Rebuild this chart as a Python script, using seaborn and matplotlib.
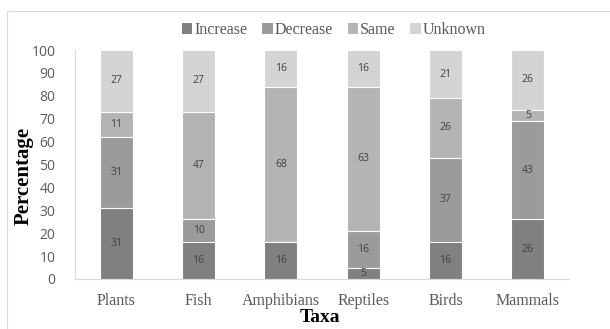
import numpy as np
import pandas as pd
import matplotlib
matplotlib.use("Agg")
import matplotlib.pyplot as plt
import seaborn as sns
from matplotlib.patches import Patch

taxa = ["Plants", "Fish", "Amphibians", "Reptiles", "Birds", "Mammals"]
increase = [31, 16, 16, 5, 16, 26]
decrease = [31, 10, 0, 16, 37, 43]
same = [11, 47, 68, 63, 26, 5]
unknown = [27, 27, 16, 16, 21, 26]

series_names = ["Increase", "Decrease", "Same", "Unknown"]
series_values = [increase, decrease, same, unknown]
colors = ["#808080", "#9b9b9b", "#b4b4b4", "#d4d4d4"]
yticks = [0, 10, 20, 30, 40, 50, 60, 70, 80, 90, 100]

sns.set_theme(style="white")
plt.rcParams["font.serif"] = ["Liberation Serif", "DejaVu Serif"]
plt.rcParams["font.sans-serif"] = ["Open Sans", "Liberation Sans", "DejaVu Sans"]

fig = plt.figure(figsize=(6.10, 3.29), dpi=100)
ax = fig.add_axes([75 / 610, 50 / 329, 494 / 610, 229 / 329])

# cumulative tops for stacking
cum = np.cumsum(np.array(series_values), axis=0)
df = pd.DataFrame({"taxa": taxa})
for i, name in enumerate(series_names):
    df[name] = cum[i]

# draw from the top layer down so each lower layer overlays the previous
for i in reversed(range(len(series_names))):
    sns.barplot(data=df, x="taxa", y=series_names[i], color=colors[i],
                width=0.4, edgecolor="white", linewidth=0.8,
                saturation=1, ax=ax)

# segment value labels
for j in range(len(taxa)):
    base = 0
    for i in range(len(series_names)):
        v = series_values[i][j]
        if v > 0:
            ax.text(j, base + v / 2, str(v), ha="center", va="center",
                    fontsize=7.5, color="#404040", family="sans-serif")
        base += v

ax.set_ylim(0, 100)
ax.set_xlim(-0.5, len(taxa) - 0.5)
ax.set_yticks(yticks)
ax.set_yticklabels([str(t) for t in yticks], family="sans-serif",
                   fontsize=10, color="#595959")
ax.set_xticks(range(len(taxa)))
ax.set_xticklabels(taxa, family="serif", fontsize=11.5, color="#595959")
ax.tick_params(axis="y", length=0, pad=14)
ax.tick_params(axis="x", length=0, pad=10)

for s in ["top", "right"]:
    ax.spines[s].set_visible(False)
for s in ["left", "bottom"]:
    ax.spines[s].set_color("#d9d9d9")
    ax.spines[s].set_linewidth(0.8)

ax.set_xlabel("Taxa", family="serif", fontsize=14, fontweight="bold",
              color="black")
ax.xaxis.set_label_coords((320 - 75) / 494, -(318 - 279) / 229)
ax.xaxis.label.set_va("center")
ax.set_ylabel("Percentage", family="serif", fontsize=15, fontweight="bold",
              color="black")
ax.yaxis.set_label_coords(-(75 - 24) / 494, (279 - 176) / 229)
ax.yaxis.label.set_va("center")

handles = [Patch(facecolor=c, edgecolor="none", label=n)
           for n, c in zip(series_names, colors)]
leg = fig.legend(handles=handles, loc="center",
                 bbox_to_anchor=(334 / 610, 1 - 30 / 329),
                 ncol=4, frameon=False, prop={"family": "serif", "size": 11.5},
                 handlelength=0.65, handleheight=0.65, handletextpad=0.15,
                 columnspacing=0.9)
for t in leg.get_texts():
    t.set_color("#595959")

# chart-area border
fig.add_artist(plt.Rectangle((7 / 610, -0.1), 1.2, 1.1 - 11 / 329,
                             transform=fig.transFigure, fill=False,
                             edgecolor="#d9d9d9", linewidth=0.8))

fig.savefig("out.png", dpi=100)
